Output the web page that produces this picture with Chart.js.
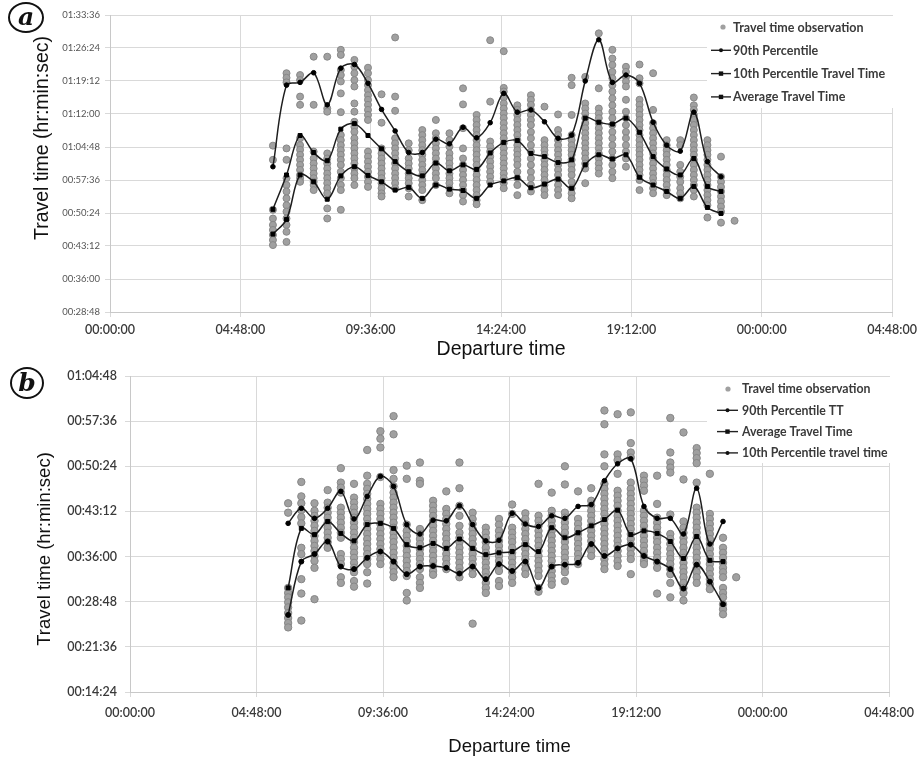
<!DOCTYPE html>
<html><head><meta charset="utf-8">
<script src="https://cdn.jsdelivr.net/npm/chart.js@4.4.1/dist/chart.umd.min.js"></script>
<style>
html,body{margin:0;padding:0;background:#fff;}
#wrap{position:relative;width:922px;height:760px;overflow:hidden;background:#fff;}
canvas{position:absolute;left:0;}
#ca{top:0;}
#cb{top:360px;}
.tag{position:absolute;box-sizing:border-box;border:2px solid #111;border-radius:50%;font-family:"DejaVu Serif","Liberation Serif",serif;font-style:italic;font-weight:bold;font-size:25px;text-align:center;color:#111;background:#fff;}
</style></head><body>
<div id="wrap">
<canvas id="ca" width="922" height="360"></canvas>
<canvas id="cb" width="922" height="400"></canvas>
<div class="tag" style="left:8px;top:2px;width:36px;height:31px;line-height:25px;">a</div>
<div class="tag" style="left:10px;top:367px;width:34px;height:32px;line-height:27px;">b</div>
</div>
<script>
// ---------------- DATA ----------------
const departureTimes = ["06:00","06:30","07:00","07:30","08:00","08:30","09:00","09:30","10:00","10:30","11:00","11:30","12:00","12:30","13:00","13:30","14:00","14:30","15:00","15:30","16:00","16:30","17:00","17:30","18:00","18:30","19:00","19:30","20:00","20:30","21:00","21:30","22:00","22:30"];
const observationTimes = departureTimes.concat(["23:00"]);

const xTickHours = [0, 4.8, 9.6, 14.4, 19.2, 24, 28.8];
const xTickLabels = ["00:00:00","04:48:00","09:36:00","14:24:00","19:12:00","00:00:00","04:48:00"];
const yTickLabelsA = ["00:28:48","00:36:00","00:43:12","00:50:24","00:57:36","01:04:48","01:12:00","01:19:12","01:26:24","01:33:36"];
const yTickLabelsB = ["00:14:24","00:21:36","00:28:48","00:36:00","00:43:12","00:50:24","00:57:36","01:04:48"];

// Panel (a) — travel time in minutes
const p90A = [60.5,78.3,78.9,81.0,74.0,82.0,82.8,78.7,73.0,68.3,63.6,63.6,66.5,65.5,69.1,66.8,70.1,76.5,72.4,72.9,70.3,66.7,67.4,79.2,88.2,78.9,80.5,78.7,70.2,65.2,63.9,72.4,61.6,58.3];
const p10A = [45.8,49.0,58.7,57.2,53.4,58.5,60.5,58.6,57.2,55.4,56.0,53.6,56.5,55.6,55.3,53.6,56.5,57.4,58.1,55.9,56.7,57.8,55.8,60.9,63.1,62.2,63.1,58.2,56.5,55.1,53.6,56.2,51.6,50.3];
const avgA = [51.2,58.7,67.3,63.6,61.8,68.7,69.9,67.3,64.4,61.6,59.4,58.5,61.3,59.6,60.9,59.9,63.5,65.8,66.2,63.4,62.7,61.4,62.0,71.1,70.2,69.8,71.1,68.0,62.7,60.0,58.7,62.3,56.2,55.1];
const obsA = [
 [65.1,62.0,51.1,49.2,47.8,46.7,45.6,44.5,43.4],
 [80.9,79.9,78.9,64.5,62.0,58.0,56.5,55.1,53.6,52.1,50.7,49.2,47.8,46.3,44.1],
 [80.5,79.4,75.8,74.0,66.7,65.2,64.2,63.1,62.0,60.9,59.8,58.7,58.0,57.2],
 [84.5,74.0,63.8,62.3,61.2,60.1,59.0,58.0,57.2,56.5,55.4],
 [84.5,73.2,72.5,63.4,62.3,61.2,60.1,59.0,58.0,56.9,55.8,54.7,51.4,49.2],
 [86.0,84.9,81.6,80.5,79.1,76.5,72.4,67.4,66.3,65.2,64.1,63.1,62.0,60.9,59.4,58.0,56.5,55.4,51.1],
 [83.8,82.3,80.9,79.4,78.0,74.3,72.5,70.3,69.2,68.1,66.7,65.6,64.5,63.4,62.3,61.2,60.1,59.0,58.0,56.5],
 [82.1,80.9,79.4,78.3,77.2,76.1,75.1,74.0,72.9,71.8,70.7,63.8,62.7,61.6,60.5,59.4,58.3,57.2,56.1],
 [76.3,70.1,64.5,63.4,62.3,61.2,60.1,59.0,58.0,56.9,55.8,54.7,54.0],
 [88.7,75.8,72.7,66.7,65.6,64.5,63.4,62.3,61.2,60.1,59.0,58.0,56.9,55.8],
 [65.6,64.1,62.3,61.2,60.1,59.0,58.0,56.9,55.8,54.0],
 [68.5,67.4,66.3,65.2,64.1,63.1,62.0,60.9,59.8,58.7,57.6,56.5,55.4,53.2],
 [70.7,67.8,66.7,65.6,64.5,63.4,62.3,61.2,60.1,59.0,58.0,56.5],
 [67.8,66.3,64.9,63.4,62.3,61.2,60.1,59.0,58.0,56.9,55.8,54.7],
 [77.6,74.1,68.9,64.5,62.3,60.9,59.8,58.7,57.6,56.5,55.4,54.3,52.9],
 [71.8,70.7,69.6,68.5,67.4,66.3,65.2,64.1,63.1,62.0,60.9,59.8,58.7,57.6,56.5,55.4,54.3,53.2,52.3],
 [88.1,74.7,66.0,64.9,63.8,62.7,61.6,60.5,59.4,58.3,57.2],
 [85.7,77.7,76.9,75.6,74.3,73.2,72.1,71.1,70.0,68.9,67.8,66.7,65.6,64.5,63.4,62.3,61.2,60.1,59.0,58.0,56.9,55.8],
 [73.9,72.9,71.8,70.7,69.6,68.5,67.4,66.3,65.2,64.1,63.1,62.0,60.9,59.4,58.0,56.5,54.3],
 [76.1,75.1,74.0,72.9,71.8,70.7,69.6,68.1,66.7,65.2,63.8,62.3,60.9,59.4,58.0,56.5,55.1],
 [73.6,66.3,65.2,64.1,63.1,62.0,60.9,59.8,58.7,57.6,56.5,55.4,54.3],
 [71.9,68.5,67.4,66.3,65.2,64.1,63.1,62.0,60.9,59.8,58.7,57.6,56.5,55.4,54.3],
 [79.9,78.3,71.8,67.4,66.3,65.2,64.1,63.1,62.0,60.9,59.8,58.7,57.2,55.8,54.7,53.6],
 [80.1,74.3,73.2,72.1,71.1,70.0,68.9,67.8,66.7,65.6,64.5,63.4,62.3,61.2,60.1,56.9],
 [89.6,77.6,73.2,72.1,71.1,70.0,68.9,67.8,66.7,65.6,64.5,63.4,62.3,61.2,60.1,59.0],
 [86.0,84.1,82.7,81.2,79.8,78.3,76.9,75.4,73.9,72.5,71.1,69.6,68.1,66.7,65.2,63.8,62.3,60.9,59.4,58.0],
 [82.3,81.2,80.1,79.1,78.0,75.1,72.5,71.1,69.6,68.1,66.7,65.2,63.8,62.3,60.5],
 [82.8,79.8,78.7,75.1,74.0,72.9,71.8,70.7,69.6,68.5,67.4,66.3,65.2,64.1,63.1,62.0,60.9,59.8,58.7,57.6,55.4],
 [80.9,72.9,70.0,68.9,67.8,66.7,65.6,64.5,63.4,62.3,61.2,60.1,59.0,58.0,56.9,55.8,54.7],
 [66.3,65.2,64.1,63.1,62.0,60.9,59.8,58.7,57.6,56.5,55.4,54.3],
 [66.3,65.2,60.9,59.4,58.3,57.2,55.8,54.7,53.6],
 [75.6,73.9,72.9,71.8,70.7,69.6,68.5,67.4,66.3,65.2,64.1,63.1,62.0,60.9,59.8,58.7,57.6,56.5,55.4,54.0],
 [66.3,65.2,64.1,63.1,62.0,60.9,59.8,58.7,57.6,56.5,55.4,54.3,53.2,52.1,49.4],
 [62.7,58.3,57.2,56.1,55.1,54.0,52.9,51.8,50.7,48.3],
 [48.7]
];

// Panel (b) — travel time in minutes
const p90B = [41.3,43.7,42.1,43.7,46.4,42.0,45.6,48.8,47.2,41.1,39.6,41.8,41.7,44.1,41.1,38.5,38.6,42.9,41.2,40.8,42.5,42.1,44.0,44.3,48.1,50.8,51.6,44.0,42.1,42.1,39.6,46.9,38.0,41.6];
const avgB = [31.0,40.5,39.5,41.6,39.7,38.5,41.1,41.3,40.5,37.9,37.4,38.1,37.3,38.8,37.3,36.3,36.6,36.8,37.9,36.8,40.6,39.0,39.8,40.9,41.9,43.4,39.5,40.1,39.7,38.4,35.7,39.2,35.4,35.2];
const p10B = [26.7,35.2,36.4,38.4,34.4,34.0,35.8,36.8,35.2,33.2,34.4,34.5,34.2,33.3,34.4,32.4,34.8,33.7,35.2,31.0,34.4,34.7,35.0,38.0,36.1,37.3,37.9,36.1,35.2,34.0,30.9,34.7,32.0,28.4];
const obsB = [
 [44.5,43.0,31.0,30.2,29.5,28.7,27.9,27.0,26.2,25.4,24.7],
 [47.9,45.6,44.5,43.4,42.3,41.3,37.4,36.4,32.4,30.1,25.8],
 [44.5,43.3,42.5,41.7,40.9,40.1,39.3,38.5,37.7,36.9,36.1,35.3,34.2,29.2],
 [46.6,44.6,43.8,43.0,42.2,41.4,40.6,39.8,39.0,38.3,37.4],
 [50.1,47.8,47.0,46.2,43.8,43.0,42.2,41.4,40.6,39.8,39.0,36.4,35.6,34.8,32.7,31.8],
 [47.6,45.4,44.6,43.8,43.0,42.2,41.4,40.6,39.8,39.0,38.3,37.4,36.6,35.8,35.0,34.2,33.5,32.1,31.2],
 [53.0,48.9,47.6,46.8,46.0,45.2,44.4,43.6,42.8,42.0,41.2,40.4,39.6,38.8,38.0,37.2,36.4,35.6,34.8,33.5,31.7],
 [56.0,54.8,53.4,48.7,44.4,43.6,42.8,42.0,41.2,40.4,39.6,38.8,38.0,37.2,36.4,35.6,34.8],
 [58.4,55.5,49.8,48.4,47.2,46.2,45.4,44.6,43.8,43.0,42.2,41.4,40.6,39.8,39.0,38.3,37.4,36.6,35.8,35.0,34.2,33.5,32.7],
 [50.5,48.4,41.1,40.1,39.3,38.5,37.7,36.9,36.1,35.3,34.5,33.7,32.9,30.2,29.0],
 [51.0,48.1,47.6,40.4,39.6,38.8,38.0,37.2,36.4,35.6,34.8,34.0,32.7,31.8,31.0],
 [44.9,44.1,43.3,42.5,41.7,40.9,40.1,39.3,38.5,37.7,36.9,36.1,35.3,34.5,33.7,33.1],
 [46.4,43.6,42.8,42.0,41.2,40.4,39.6,38.8,38.0,37.2,36.4,35.6,34.8,34.0],
 [51.0,46.9,44.1,42.5,40.9,39.8,39.0,38.3,37.4,36.6,35.8,35.0,34.2,33.5,32.7],
 [43.0,42.0,41.2,40.4,39.6,38.8,38.0,37.2,36.4,35.6,34.8,34.0,33.2,25.3],
 [40.6,39.8,39.0,38.3,37.4,36.6,35.8,35.0,34.2,33.5,32.7,31.8,31.0,30.2],
 [42.0,41.1,40.1,39.3,38.5,37.7,36.9,36.1,35.3,34.5,33.7,32.1,31.3],
 [44.3,42.8,40.6,39.8,39.0,38.3,37.4,36.6,35.8,35.0,34.2,33.5,32.7,31.8],
 [42.9,42.0,41.2,40.4,39.6,38.8,38.0,37.2,36.4,35.6,34.8,34.0,33.2],
 [47.6,42.5,41.7,40.9,40.1,39.3,38.5,37.7,36.9,36.1,35.3,34.5,33.7,32.9,31.0,30.4],
 [46.2,43.3,42.5,41.7,40.9,40.1,39.3,38.5,37.7,36.9,36.1,35.3,34.5,33.7,32.9,32.1,31.5],
 [50.4,47.5,43.0,42.2,41.4,40.6,39.8,39.0,38.3,37.4,36.6,35.8,35.0,34.2,33.5,32.1],
 [46.4,42.0,41.2,40.4,39.6,38.8,38.0,37.2,36.4,35.6,34.8],
 [46.9,44.9,44.1,43.3,42.5,41.7,40.9,40.1,39.3,38.5,37.7,36.9,36.1],
 [59.3,57.1,52.3,50.4,47.6,46.8,46.0,45.2,44.4,43.6,42.8,42.0,41.2,40.4,39.6,38.8,38.0,37.2,36.4,35.6,34.8,34.0],
 [58.7,52.3,51.4,49.2,46.5,45.7,44.9,44.1,43.3,42.5,41.7,40.9,40.1,39.3,38.5,37.7,36.9,36.1,35.3,34.5],
 [59.0,54.1,52.6,51.8,47.8,46.8,46.0,45.2,44.4,43.6,42.8,42.0,41.2,40.4,39.6,38.8,38.0,37.2,36.4,35.6,33.2],
 [48.9,48.1,47.3,46.5,43.3,42.5,41.7,40.9,40.1,39.3,38.5,37.7,36.9,36.1,35.3,34.8],
 [48.9,44.4,42.2,41.4,40.6,39.8,39.0,38.3,37.4,36.6,35.8,35.0,34.2,30.1],
 [58.1,52.6,51.0,50.2,49.4,42.7,39.6,38.8,38.0,37.2,36.4,35.6,34.8,34.0,33.2,31.8,29.5],
 [55.8,48.3,41.6,40.6,39.8,39.0,38.3,37.4,36.6,35.8,35.0,34.2,33.5,32.7,31.8,31.0,30.2,29.0],
 [53.3,52.5,51.7,50.9,47.8,43.8,43.0,42.2,41.4,40.6,39.8,39.0,38.3,37.4,36.6,35.8,35.0,34.2,33.5,32.7,31.8],
 [49.2,42.8,42.0,41.2,40.4,39.6,38.8,38.0,37.2,36.4,35.6,34.8,34.0,33.2,32.4,31.6,30.8],
 [39.0,37.4,36.6,35.8,35.0,34.2,33.5,32.7,31.0,30.2,29.5,28.4,27.6,26.8],
 [32.7]
];

// ---------------- HELPERS ----------------
function toHours(hm){ const p = hm.split(':'); return +p[0] + (+p[1])/60; }
function hmsToMin(s){ const p = s.split(':'); return (+p[0])*60 + (+p[1]) + (+p[2])/60; }
function linePts(arr){ return departureTimes.map((t,i)=>({x:toHours(t), y:arr[i]})); }
function obsPts(lists){ const pts=[]; lists.forEach((vals,i)=>vals.forEach(v=>pts.push({x:toHours(observationTimes[i]), y:v}))); return pts; }

const legendPlugin = {
  id: 'insideLegend',
  afterDatasetsDraw(chart, args, o) {
    const ctx = chart.ctx;
    ctx.save();
    ctx.fillStyle = '#fff';
    ctx.fillRect(o.box[0], o.box[1], o.box[2], o.box[3]);
    ctx.font = o.font;
    ctx.textBaseline = 'middle';
    o.items.forEach((idx, k) => {
      const ds = chart.data.datasets[idx];
      const y = o.y0 + k * o.dy;
      if (ds.showLine === false) {
        ctx.beginPath(); ctx.arc(o.dotX, y, 2.6, 0, Math.PI*2);
        ctx.fillStyle = '#a0a0a0'; ctx.fill();
      } else {
        ctx.strokeStyle = '#222'; ctx.lineWidth = 1.4;
        ctx.beginPath(); ctx.moveTo(o.lineX[0], y); ctx.lineTo(o.lineX[1], y); ctx.stroke();
        const mx = (o.lineX[0] + o.lineX[1]) / 2;
        ctx.fillStyle = '#111';
        if (ds.pointStyle === 'rect') ctx.fillRect(mx-2.2, y-2.2, 4.4, 4.4);
        else { ctx.beginPath(); ctx.arc(mx, y, 2, 0, Math.PI*2); ctx.fill(); }
      }
      ctx.fillStyle = o.color;
      ctx.fillText(ds.label, o.textX, y + 0.5);
    });
    ctx.restore();
  }
};
const yTitlePlugin = {
  id: 'yTitle',
  afterDraw(chart, args, o) {
    const ctx = chart.ctx;
    ctx.save();
    ctx.translate(o.x, o.y); ctx.rotate(-Math.PI/2);
    ctx.font = o.font; ctx.fillStyle = o.color;
    ctx.textAlign = 'center'; ctx.textBaseline = 'middle';
    ctx.fillText(o.text, 0, 0);
    ctx.restore();
  }
};

function lineDs(label, arr, style, r) {
  return { label, data: linePts(arr), borderColor: '#1e1e1e', borderWidth: 1.5, tension: 0.35,
    pointStyle: style, pointRadius: r, pointBackgroundColor: '#000', pointBorderColor: '#000', pointBorderWidth: 1, fill: false, order: 0 };
}
function obsDs(label, lists, r) {
  return { label, data: obsPts(lists), showLine: false, pointRadius: r, pointBackgroundColor: '#a0a0a0',
    pointBorderColor: '#878787', pointBorderWidth: 1, order: 10 };
}

function makeChart(id, cfg) {
  return new Chart(document.getElementById(id), {
    type: 'line',
    data: { datasets: cfg.datasets },
    plugins: [legendPlugin, yTitlePlugin],
    options: {
      responsive: false, animation: false, devicePixelRatio: 1,
      layout: { padding: cfg.padding },
      plugins: { legend: { display: false }, tooltip: { enabled: false },
        insideLegend: cfg.legend, yTitle: cfg.yTitle },
      scales: {
        x: { type: 'linear', min: 0, max: 28.8,
          afterBuildTicks: s => { s.ticks = xTickHours.map(v => ({ value: v })); },
          afterFit: s => { s.height = cfg.xHeight; },
          ticks: { callback: (v, i) => xTickLabels[i], autoSkip: false, maxRotation: 0,
            font: cfg.xFont, color: '#3a3a3a', padding: cfg.xPad },
          grid: { color: '#d9d9d9', lineWidth: 1, tickLength: 5 },
          border: { color: '#c8c8c8' },
          title: { display: true, text: 'Departure time', color: '#111',
            font: cfg.titleFont, padding: { top: 0, bottom: cfg.titlePadB } }
        },
        y: { type: 'linear', min: cfg.yMin, max: cfg.yMax,
          afterBuildTicks: s => { s.ticks = cfg.yLabels.map(t => ({ value: hmsToMin(t) })); },
          afterFit: s => { s.width = cfg.yWidth; },
          ticks: { callback: (v, i) => cfg.yLabels[i], autoSkip: false,
            font: cfg.yFont, color: cfg.yColor, padding: cfg.yPad },
          grid: { color: '#d9d9d9', lineWidth: 1, tickLength: 5 },
          border: { color: '#c8c8c8' }
        }
      }
    }
  });
}

makeChart('ca', {
  datasets: [
    lineDs('90th Percentile', p90A, 'circle', 2.3),
    lineDs('10th Percentile Travel Time', p10A, 'rect', 2.8),
    lineDs('Average Travel Time', avgA, 'rect', 2.8),
    obsDs('Travel time observation', obsA, 3.5)
  ],
  padding: { left: 0, right: 28, top: 15, bottom: 0 },
  xHeight: 48, yWidth: 110, yMin: 28.8, yMax: 93.6, yLabels: yTickLabelsA,
  xFont: { family: 'Lato', size: 12.5, weight: '600' }, xPad: 5,
  yFont: { family: 'Lato', size: 9.5 }, yColor: '#555', yPad: 5,
  titleFont: { family: 'Liberation Sans', size: 19.5 }, titlePadB: -1,
  legend: { box: [707, 16, 187, 92], items: [3, 0, 1, 2], y0: 27, dy: 23.3,
    dotX: 723, lineX: [711, 731], textX: 733, font: 'bold 12.5px Lato', color: '#3a3a3a' },
  yTitle: { text: 'Travel time (hr:min:sec)', x: 43, y: 138, font: '19.5px "Liberation Sans"', color: '#111' }
});

makeChart('cb', {
  datasets: [
    lineDs('90th Percentile TT', p90B, 'circle', 2.3),
    lineDs('Average Travel Time', avgB, 'rect', 2.8),
    lineDs('10th Percentile travel time', p10B, 'circle', 2.5),
    obsDs('Travel time observation', obsB, 3.7)
  ],
  padding: { left: 0, right: 26, top: 16, bottom: 0 },
  xHeight: 68, yWidth: 130, yMin: 14.4, yMax: 64.8, yLabels: yTickLabelsB,
  xFont: { family: 'Lato', size: 12.5, weight: '600' }, xPad: 8,
  yFont: { family: 'Lato', size: 12.5, weight: '600' }, yColor: '#3a3a3a', yPad: 8,
  titleFont: { family: 'Liberation Sans', size: 18.5 }, titlePadB: 2,
  legend: { box: [707, 17, 188, 86], items: [3, 0, 1, 2], y0: 29, dy: 21.3,
    dotX: 728, lineX: [717, 738], textX: 742, font: 'bold 12.3px Lato', color: '#3a3a3a' },
  yTitle: { text: 'Travel time (hr:min:sec)', x: 45, y: 189, font: '18.5px "Liberation Sans"', color: '#111' }
});
</script>
</body></html>
